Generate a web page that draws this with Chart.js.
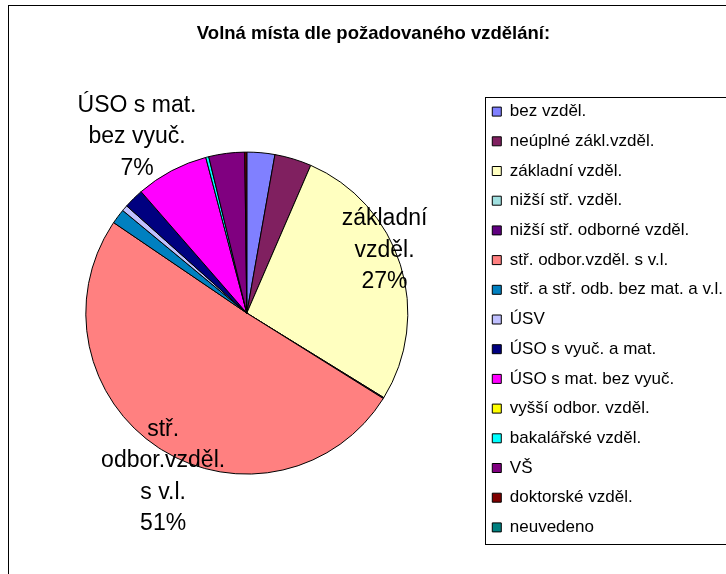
<!DOCTYPE html>
<html>
<head>
<meta charset="utf-8">
<script src="https://cdn.jsdelivr.net/npm/chart.js@4/dist/chart.umd.min.js"></script>
<style>
  html, body { margin: 0; padding: 0; background: #fff; }
  #wrap { width: 726px; height: 574px; }
</style>
</head>
<body>
<div id="wrap"><canvas id="chart" width="726" height="574"></canvas></div>
<script>
// data (share of vacancies, %)
let categories = [
  "bez vzděl.",
  "neúplné zákl.vzděl.",
  "základní vzděl.",
  "nižší stř. vzděl.",
  "nižší stř. odborné vzděl.",
  "stř. odbor.vzděl. s v.l.",
  "stř. a stř. odb. bez mat. a v.l.",
  "ÚSV",
  "ÚSO s vyuč. a mat.",
  "ÚSO s mat. bez vyuč.",
  "vyšší odbor. vzděl.",
  "bakalářské vzděl.",
  "VŠ",
  "doktorské vzděl.",
  "neuvedeno"
];

let shares = [2.8, 3.7, 27.3, 0, 0.1, 50.6, 1.5, 0.6, 2.0, 7.3, 0, 0.3, 3.6, 0.2, 0];

let colors = [
  "#8080FF", "#802060", "#FFFFC0", "#A0E0E0", "#600080",
  "#FF8080", "#0080C0", "#C0C0FF", "#000080", "#FF00FF",
  "#FFFF00", "#00FFFF", "#800080", "#800000", "#008080"
];

let titleText = "Volná místa dle požadovaného vzdělání:";

// where the big labels sit: angle shift from slice middle (deg), distance in radii
let labelPlacement = {
  2: { shift: -7, dist: 0.94 },
  5: { shift: -6, dist: 1.14 },
  9: { shift: -4, dist: 1.29 }
};

const FONT = '"Liberation Sans", Arial, sans-serif';

function wrapText(ctx, text, maxW) {
  let words = text.split(" ");
  let lines = [];
  let cur = "";
  words.forEach(w => {
    let test = cur ? cur + " " + w : w;
    if (cur && ctx.measureText(test).width > maxW) {
      lines.push(cur);
      cur = w;
    } else {
      cur = test;
    }
  });
  if (cur) lines.push(cur);
  return lines;
}

// white page + outer frame
const framePlugin = {
  id: "frame",
  beforeDraw(chart) {
    const ctx = chart.ctx;
    ctx.save();
    ctx.fillStyle = "#fff";
    ctx.fillRect(0, 0, chart.width, chart.height);
    ctx.strokeStyle = "#000";
    ctx.lineWidth = 1;
    ctx.strokeRect(8.5, 5.5, 800, 800);
    ctx.restore();
  }
};

// box around legend
const legendBox = {
  id: "legendBox",
  afterDraw(chart) {
    const lg = chart.legend;
    if (!lg || !lg.legendHitBoxes.length) return;
    const hb = lg.legendHitBoxes;
    const pad = lg.options.labels.padding;
    const x = Math.round(lg.left + pad - 7) + 0.5;
    const y = Math.round(hb[0].top - 6) + 0.5;
    const last = hb[hb.length - 1];
    const y2 = Math.round(last.top + last.height + 8) + 0.5;
    const ctx = chart.ctx;
    ctx.save();
    ctx.strokeStyle = "#000";
    ctx.lineWidth = 1;
    ctx.strokeRect(x, y, 800, y2 - y);
    ctx.restore();
  }
};

// category + percent labels on big slices
const sliceLabels = {
  id: "sliceLabels",
  afterDatasetsDraw(chart) {
    const meta = chart.getDatasetMeta(0);
    const ctx = chart.ctx;
    const total = shares.reduce((a, b) => a + b, 0);
    ctx.save();
    ctx.font = "23px " + FONT;
    ctx.fillStyle = "#000";
    ctx.textAlign = "center";
    ctx.textBaseline = "middle";
    meta.data.forEach((arc, i) => {
      const pct = shares[i] / total * 100;
      if (pct < 5) return;
      const place = labelPlacement[i] || { shift: 0, dist: 0.75 };
      const a = (arc.startAngle + arc.endAngle) / 2 + place.shift * Math.PI / 180;
      const cx = arc.x + Math.cos(a) * arc.outerRadius * place.dist;
      const cy = arc.y + Math.sin(a) * arc.outerRadius * place.dist;
      const lines = wrapText(ctx, categories[i], 135);
      lines.push(Math.round(pct) + "%");
      const lh = 31.5;
      lines.forEach((t, k) => {
        ctx.fillText(t, cx, cy + (k - (lines.length - 1) / 2) * lh);
      });
    });
    ctx.restore();
  }
};

Chart.defaults.color = "#000";

new Chart(document.getElementById("chart"), {
  type: "pie",
  data: {
    labels: categories,
    datasets: [{
      data: shares,
      backgroundColor: colors,
      borderColor: "#000",
      borderWidth: 1,
      radius: 161
    }]
  },
  options: {
    responsive: false,
    animation: false,
    layout: {
      padding: { left: 14, right: -7, top: 5, bottom: 18 }
    },
    plugins: {
      title: {
        display: true,
        text: titleText,
        color: "#000",
        font: { family: FONT, size: 18.5, weight: "bold", lineHeight: 1.2 },
        padding: { top: 18, bottom: 25 }
      },
      legend: {
        position: "right",
        // empty title only pushes the items down
        title: { display: true, text: "", font: { size: 10, lineHeight: 1 }, padding: { top: 68, bottom: 0 } },
        labels: {
          boxWidth: 9,
          boxHeight: 9,
          padding: 12.7,
          color: "#000",
          font: { family: FONT, size: 17 }
        }
      },
      tooltip: { enabled: false }
    }
  },
  plugins: [framePlugin, legendBox, sliceLabels]
});
</script>
</body>
</html>
